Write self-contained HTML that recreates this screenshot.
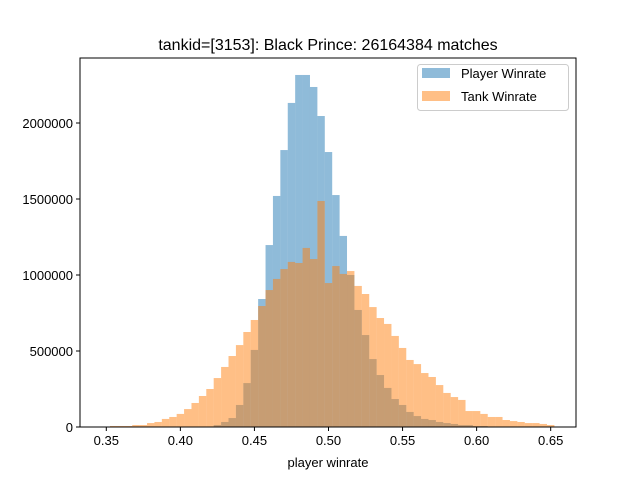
<!DOCTYPE html>
<html><head><meta charset="utf-8"><style>
body{margin:0;background:#fff;overflow:hidden;}
svg{display:block;font-family:"Liberation Sans","DejaVu Sans",sans-serif;}
</style></head><body>
<svg id="chart" width="640" height="480" xmlns="http://www.w3.org/2000/svg">
<text x="328" y="50" font-size="16" text-anchor="middle">tankid=[3153]: Black Prince: 26164384 matches</text>
<g id="bars"></g>
<g id="axes"></g>
<text x="328" y="467" font-size="13" text-anchor="middle">player winrate</text>
<text transform="translate(-3,242) rotate(-90)" font-size="13" text-anchor="middle">count</text>
<g>
<rect x="417.5" y="64.5" width="151" height="46" rx="3" fill="#fff" fill-opacity="0.8" stroke="#ccc"/>
<rect x="422" y="68" width="28" height="10" fill="#1f77b4" fill-opacity="0.5"/>
<text x="461" y="78" font-size="13">Player Winrate</text>
<rect x="422" y="91" width="28" height="10" fill="#ff7f0e" fill-opacity="0.5"/>
<text x="461" y="101" font-size="13">Tank Winrate</text>
</g>
</svg>
<script>
const binStart = 0.3525;
const binWidth = 0.005;
const playerCounts = [0,0,0,0,0,0,0,0,0,0,0,0,0,0,13000,33000,59000,145000,289000,507000,842000,1197000,1520000,1822000,2132000,2316000,2316000,2237000,2046000,1809000,1526000,1257000,1000000,770000,605000,447000,342000,257000,184000,145000,99000,72000,53000,46000,33000,26000,20000,13000,13000,6600,6600,0,0,0,0,0,0,0,0,0];
const tankCounts = [6600,6600,6600,13000,13000,26000,33000,53000,66000,86000,118000,158000,204000,250000,322000,395000,467000,539000,625000,704000,796000,901000,974000,1039000,1086000,1079000,1178000,1105000,1487000,947000,1059000,1007000,1026000,928000,875000,789000,717000,678000,599000,520000,441000,414000,355000,329000,276000,224000,197000,178000,105000,105000,86000,66000,66000,46000,39000,33000,26000,26000,20000,13000];
const xTicks = [0.35,0.40,0.45,0.50,0.55,0.60,0.65];
const xTickLabels = ["0.35","0.40","0.45","0.50","0.55","0.60","0.65"];
const yTicks = [0,500000,1000000,1500000,2000000];
const yTickLabels = ["0","500000","1000000","1500000","2000000"];

const NS="http://www.w3.org/2000/svg";
const L=80,R=576,T=58,B=427;
function xs(v){return 106.3+(v-0.35)*1481.3;}
function ys(v){return B-v*(304/2000000);}
const bars=document.getElementById('bars');
function drawSeries(arr,color,name){
  arr.forEach((c,i)=>{
    if(c<=0)return;
    const x0=xs(binStart+i*binWidth), x1=xs(binStart+(i+1)*binWidth);
    const r=document.createElementNS(NS,'rect');
    r.setAttribute('x',x0);r.setAttribute('width',x1-x0);
    r.setAttribute('y',ys(c));r.setAttribute('height',B-ys(c));
    r.setAttribute('fill',color);r.setAttribute('fill-opacity','0.5');
    
    
    bars.appendChild(r);
  });
}
drawSeries(playerCounts,'#1f77b4','player');
drawSeries(tankCounts,'#ff7f0e','tank');
const axes=document.getElementById('axes');
function el(tag,attrs){const e=document.createElementNS(NS,tag);for(const k in attrs)e.setAttribute(k,attrs[k]);return e;}
const frame=el('rect',{x:L,y:T,width:R-L,height:B-T,fill:'none',stroke:'#000','stroke-width':1});


axes.appendChild(frame);
xTicks.forEach((v,i)=>{
  const x=xs(v);
  const t=el('line',{x1:x,x2:x,y1:B,y2:B+4,stroke:'#000'});
  
  
  axes.appendChild(t);
  const tx=el('text',{x:x,y:B+18,'font-size':13,'text-anchor':'middle'});
  tx.textContent=xTickLabels[i];
  
  
  axes.appendChild(tx);
});
yTicks.forEach((v,i)=>{
  const y=ys(v);
  const t=el('line',{x1:L-4,x2:L,y1:y,y2:y,stroke:'#000'});
  
  
  axes.appendChild(t);
  const tx=el('text',{x:L-7,y:y+5,'font-size':13,'text-anchor':'end'});
  tx.textContent=yTickLabels[i];
  
  
  axes.appendChild(tx);
});
</script>
</body></html>
